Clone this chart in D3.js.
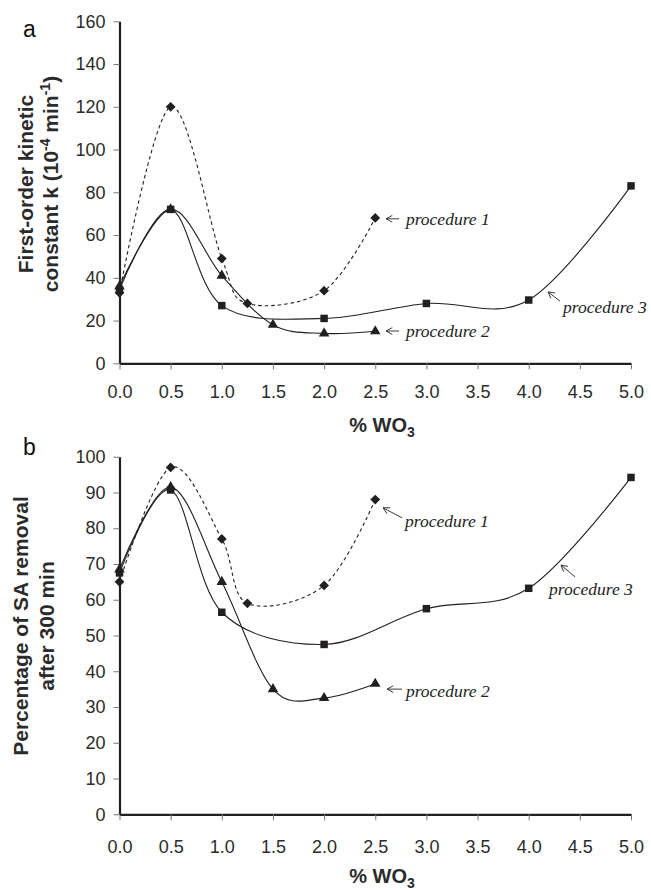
<!DOCTYPE html>
<html>
<head>
<meta charset="utf-8">
<script src="https://cdn.jsdelivr.net/npm/d3@7"></script>
<style>
  body { margin: 0; background: #fff; }
  svg { display: block; }
  .tick text { font-family: "Liberation Sans", Arial, sans-serif; font-size: 18px; fill: #2b2b2b; }
  .tick line { stroke: #777; stroke-width: 1; }
  .domain { stroke: #231f20; stroke-width: 2.2; }
  .ytitle, .xtitle { font-family: "Liberation Sans", Arial, sans-serif; font-weight: bold; fill: #2b2b2b; }
  .panel-label { font-family: "Liberation Sans", Arial, sans-serif; font-size: 23px; fill: #111; }
  .note { font-family: "Liberation Serif", "DejaVu Serif", serif; font-style: italic; font-size: 17.5px; fill: #222; }
</style>
</head>
<body>
<div id="chart"></div>
<script>
// % WO3 positions measured for each procedure
const xP1 = [0, 0.5, 1.0, 1.25, 2.0, 2.5];
const xP2 = [0, 0.5, 1.0, 1.5, 2.0, 2.5];
const xP3 = [0, 0.5, 1.0, 2.0, 3.0, 4.0, 5.0];

// panel a: first-order kinetic constant k (10^-4 min^-1)
const kP1 = [33, 120, 49, 28, 34, 68];
const kP2 = [36, 72, 41, 18, 14, 15];
const kP3 = [34.5, 72, 27, 21, 28, 29.6, 83];

// panel b: percentage of SA removal after 300 min
const remP1 = [65, 97, 77, 59, 64, 88];
const remP2 = [68.5, 91.5, 65, 35, 32.5, 36.5];
const remP3 = [67.5, 90.7, 56.5, 47.5, 57.5, 63.2, 94.2];

const xTicks = [0, 0.5, 1.0, 1.5, 2.0, 2.5, 3.0, 3.5, 4.0, 4.5, 5.0];
const kTicks = [0, 20, 40, 60, 80, 100, 120, 140, 160];
const remTicks = [0, 10, 20, 30, 40, 50, 60, 70, 80, 90, 100];

const width = 651, height = 890;
const ink = "#231f20";

const svg = d3.select("#chart").append("svg")
    .attr("width", width)
    .attr("height", height);

const x = d3.scaleLinear().domain([0, 5]).range([119.5, 631]);

// arrow annotations in data units: tip, tail, text
const notesA = [
    {label: "procedure 1", tip: [2.606, 67.6], tail: [2.733, 67.6], text: [2.80, 64.7]},
    {label: "procedure 2", tip: [2.606, 15.1], tail: [2.733, 15.1], text: [2.80, 12.3]},
    {label: "procedure 3", tip: [4.189, 33.4], tail: [4.306, 29.1], text: [4.335, 23.5]}
];
const notesB = [
    {label: "procedure 1", tip: [2.577, 85.7], tail: [2.762, 82.9], text: [2.792, 80.3]},
    {label: "procedure 2", tip: [2.616, 35.0], tail: [2.762, 35.0], text: [2.80, 32.8]},
    {label: "procedure 3", tip: [4.316, 69.7], tail: [4.453, 66.4], text: [4.199, 61.4]}
];

function drawPanel(cfg) {
    const g = svg.append("g");
    const y = d3.scaleLinear().domain(cfg.yDomain).range(cfg.yRange);

    const xAxis = d3.axisBottom(x).tickValues(xTicks)
        .tickFormat(d3.format(".1f")).tickSizeInner(6).tickSizeOuter(0).tickPadding(cfg.xPad);
    g.append("g")
        .attr("transform", `translate(0,${cfg.yRange[0]})`)
        .call(xAxis);

    const yAxis = d3.axisLeft(y).tickValues(cfg.yTicks)
        .tickSizeInner(6).tickSizeOuter(0).tickPadding(8);
    g.append("g")
        .attr("transform", `translate(${x.range()[0]},0)`)
        .call(yAxis);

    const line = d3.line()
        .x(d => x(d[0]))
        .y(d => y(d[1]))
        .curve(d3.curveCatmullRom.alpha(0));

    cfg.series.forEach(s => {
        const pts = s.xs.map((v, i) => [v, s.ys[i]]);
        g.append("path")
            .datum(pts)
            .attr("d", line)
            .attr("fill", "none")
            .attr("stroke", ink)
            .attr("stroke-width", 1.1)
            .attr("stroke-dasharray", s.dash ? "3.5,3" : null);
    });

    cfg.series.forEach(s => {
        const pts = s.xs.map((v, i) => [v, s.ys[i]]);
        g.selectAll(null).data(pts).enter().append("path")
            .attr("d", d3.symbol().type(s.symbol).size(s.size))
            .attr("transform", d => `translate(${x(d[0])},${y(d[1])}) rotate(${s.rot || 0})`)
            .attr("fill", ink);
    });

    cfg.notes.forEach(n => {
        const tx = x(n.tip[0]), ty = y(n.tip[1]);
        const sx = x(n.tail[0]), sy = y(n.tail[1]);
        const ang = Math.atan2(sy - ty, sx - tx);
        const L = 7, spread = 0.5;
        const w1 = [tx + L * Math.cos(ang + spread), ty + L * Math.sin(ang + spread)];
        const w2 = [tx + L * Math.cos(ang - spread), ty + L * Math.sin(ang - spread)];
        g.append("path")
            .attr("d", `M${sx},${sy}L${tx},${ty}M${w1[0]},${w1[1]}L${tx},${ty}L${w2[0]},${w2[1]}`)
            .attr("fill", "none")
            .attr("stroke", "#222")
            .attr("stroke-width", 0.9);
        g.append("text")
            .attr("class", "note")
            .attr("x", x(n.text[0]))
            .attr("y", y(n.text[1]))
            .text(n.label);
    });

    // x title: % WO3
    const xt = g.append("text")
        .attr("class", "xtitle")
        .attr("x", 382)
        .attr("y", cfg.yRange[0] + 69)
        .attr("text-anchor", "middle")
        .style("font-size", "20px");
    xt.append("tspan").text("% WO");
    xt.append("tspan").attr("dy", 5).style("font-size", "14px").text("3");

    // y title lines
    cfg.yTitle.forEach((ln, i) => {
        const t = g.append("text")
            .attr("class", "ytitle")
            .attr("transform", `translate(${cfg.yTitleX[i]},${cfg.yTitleY}) rotate(-90)`)
            .attr("text-anchor", "middle")
            .style("font-size", "21px");
        let shift = 0;
        ln.forEach(part => {
            const want = part.sup ? -8 : 0;
            const sp = t.append("tspan").attr("dy", want - shift).text(part.t);
            if (part.sup) sp.style("font-size", "14px");
            shift = want;
        });
    });

    g.append("text")
        .attr("class", "panel-label")
        .attr("x", 23)
        .attr("y", cfg.labelY)
        .text(cfg.label);
}

drawPanel({
    label: "a", labelY: 37,
    yDomain: [0, 160], yRange: [363.3, 21.3], yTicks: kTicks, xPad: 16,
    series: [
        {xs: xP1, ys: kP1, symbol: d3.symbolSquare, size: 48, rot: 45, dash: true},
        {xs: xP2, ys: kP2, symbol: d3.symbolTriangle, size: 48},
        {xs: xP3, ys: kP3, symbol: d3.symbolSquare, size: 56}
    ],
    notes: notesA,
    yTitle: [
        [{t: "First-order kinetic"}],
        [{t: "constant k (10"}, {t: "-4", sup: true}, {t: " min"}, {t: "-1", sup: true}, {t: ")"}]
    ],
    yTitleX: [33, 58], yTitleY: 184
});

drawPanel({
    label: "b", labelY: 455,
    yDomain: [0, 100], yRange: [814.3, 456.7], yTicks: remTicks, xPad: 20,
    series: [
        {xs: xP1, ys: remP1, symbol: d3.symbolSquare, size: 48, rot: 45, dash: true},
        {xs: xP2, ys: remP2, symbol: d3.symbolTriangle, size: 48},
        {xs: xP3, ys: remP3, symbol: d3.symbolSquare, size: 56}
    ],
    notes: notesB,
    yTitle: [
        [{t: "Percentage of SA removal"}],
        [{t: "after 300 min"}]
    ],
    yTitleX: [28, 54], yTitleY: 626
});
</script>
</body>
</html>
